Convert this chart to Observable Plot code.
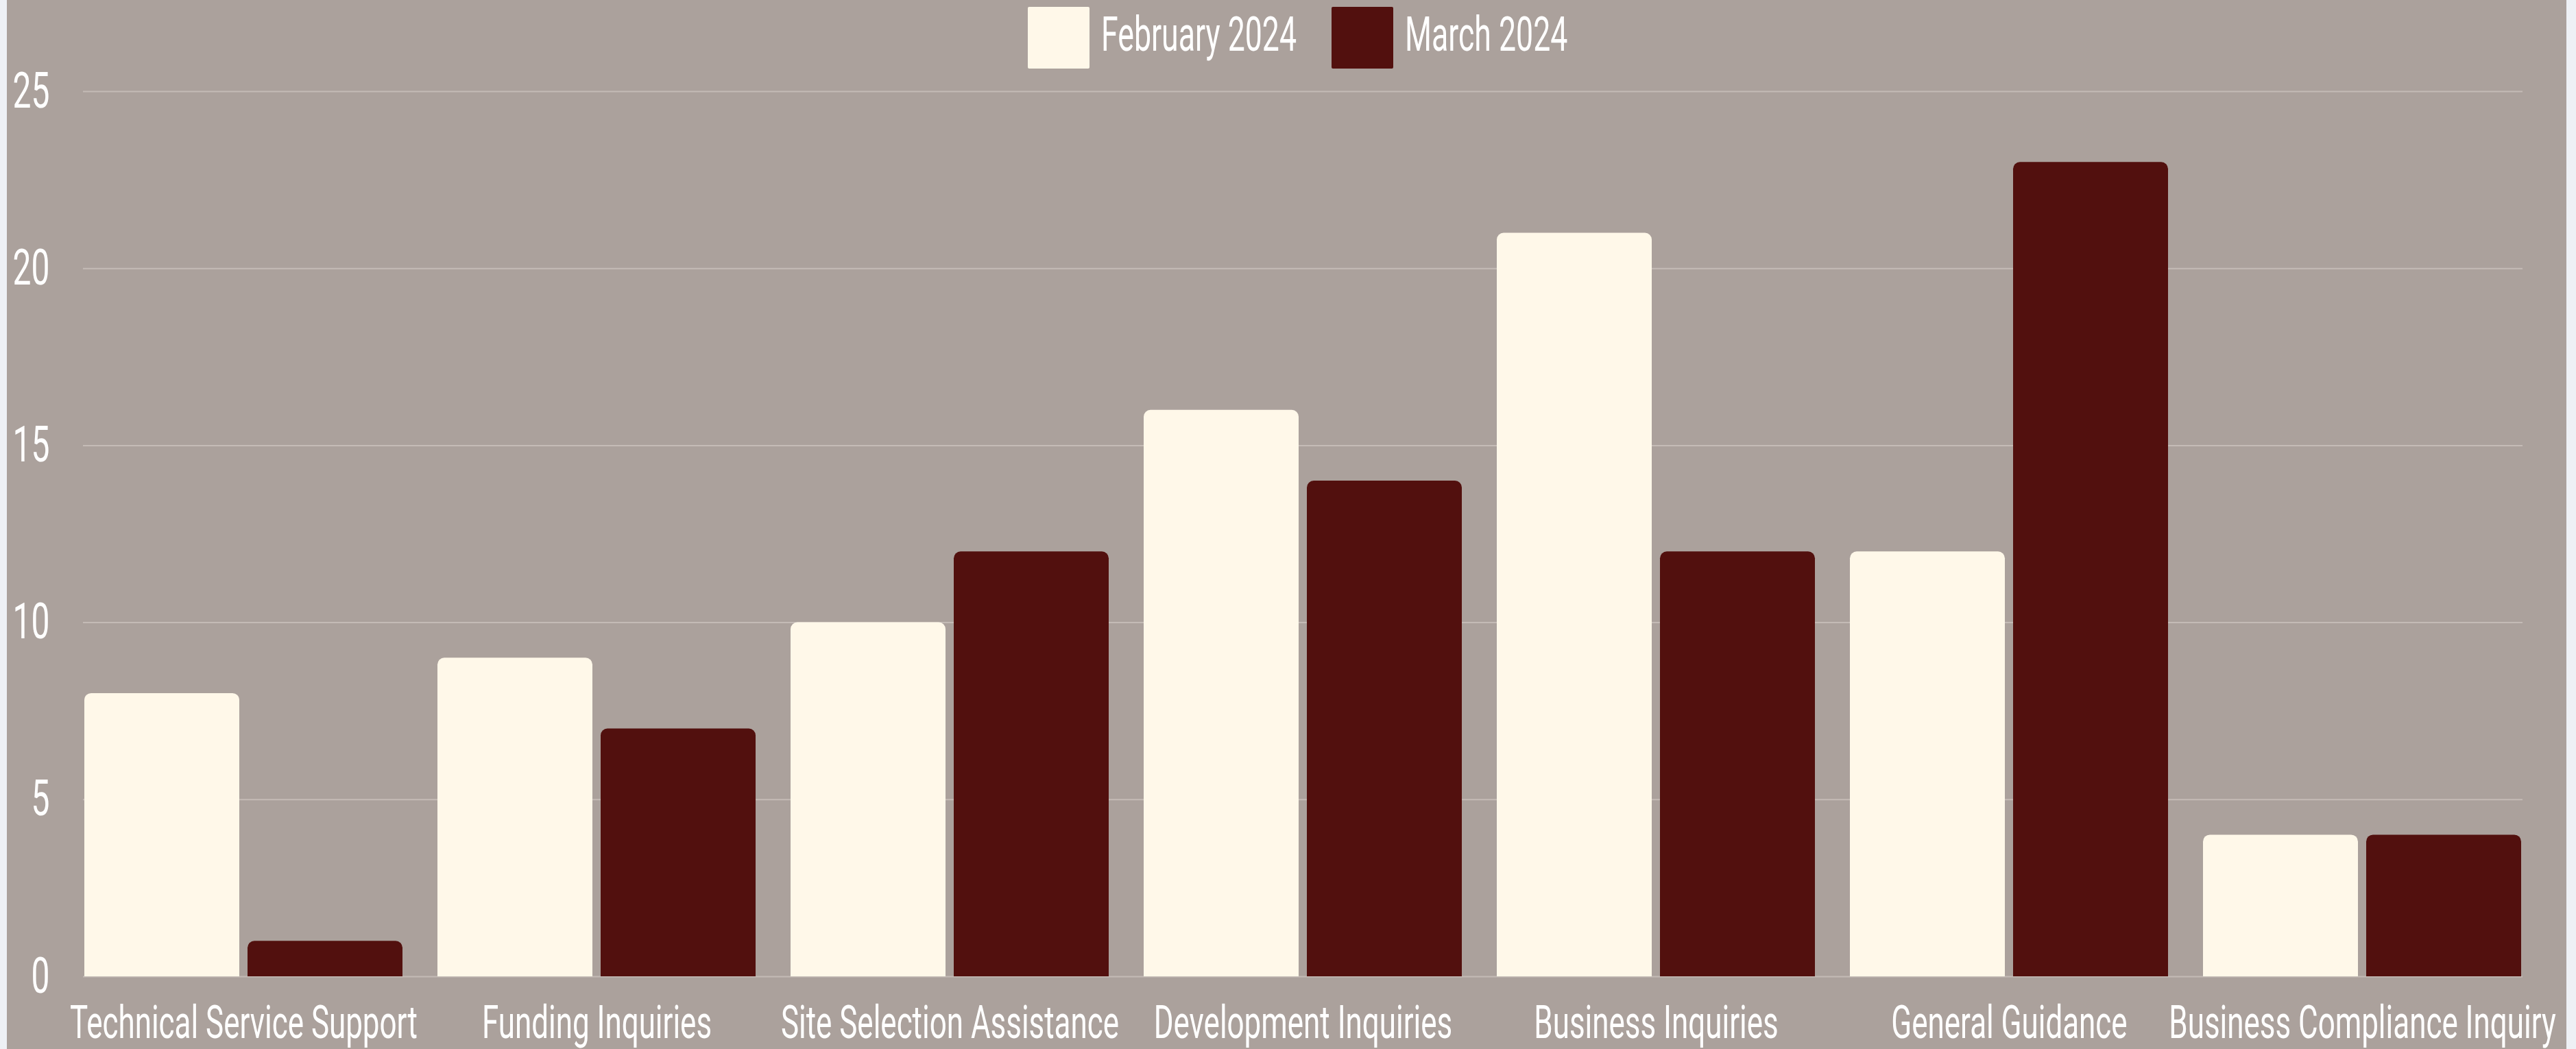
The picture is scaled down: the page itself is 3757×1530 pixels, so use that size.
<!DOCTYPE html>
<html>
<head>
<meta charset="utf-8">
<script src="https://cdn.jsdelivr.net/npm/d3@7"></script>
<script src="https://cdn.jsdelivr.net/npm/@observablehq/plot@0.6"></script>
<style>
  html, body { margin: 0; padding: 0; background: #eef0f5; }
  #panel { position: absolute; left: 10px; top: 0; width: 3733px; height: 1530px; background: #aba19c; overflow: hidden; font-family: Roboto, sans-serif; }
  #legend { position: absolute; top: 10px; left: 1489px; height: 90px; display: flex; align-items: center; color: #fff; font-size: 70px; white-space: nowrap; z-index: 2; }
  .sw { width: 90px; height: 90px; border-radius: 2px; flex: none; }
  .lab { display: inline-block; overflow: visible; }
  .lab span { display: inline-block; transform-origin: 0 50%; }
  #chart { position: absolute; left: 0; top: 0; }
</style>
</head>
<body>
<div id="panel">
  <div id="legend"></div>
  <div id="chart"></div>
</div>
<script>
const categories = [
  "Technical Service Support",
  "Funding Inquiries",
  "Site Selection Assistance",
  "Development Inquiries",
  "Business Inquiries",
  "General Guidance",
  "Business Compliance Inquiry"
];
const february = [8, 9, 10, 16, 21, 12, 4];
const march = [1, 7, 12, 14, 12, 23, 4];
const seriesNames = ["February 2024", "March 2024"];
const seriesColors = ["#fff8e9", "#52100e"];
const yTicks = [0, 5, 10, 15, 20, 25];

const rows = categories.flatMap((c, i) => [
  {category: c, series: seriesNames[0], value: february[i]},
  {category: c, series: seriesNames[1], value: march[i]}
]);

const chart = Plot.plot({
  width: 3733,
  height: 1530,
  marginTop: 133,
  marginBottom: 106,
  marginLeft: 111,
  marginRight: 64,
  style: {background: "transparent", color: "#fff", fontFamily: "Roboto, sans-serif", overflow: "visible"},
  x: {domain: categories, paddingInner: 0.1, paddingOuter: 0, label: null},
  y: {domain: [0, 25], label: null},
  color: {domain: seriesNames, range: seriesColors},
  marks: [
    Plot.gridY(yTicks, {stroke: "#c4bbb6", strokeOpacity: 1, strokeWidth: 2}),
    Plot.barY(rows.filter(d => d.series === seriesNames[0]), {x: "category", y: "value", fill: "series", insetRight: 238, ry1: 10}),
    Plot.barY(rows.filter(d => d.series === seriesNames[1]), {x: "category", y: "value", fill: "series", insetLeft: 238, ry1: 10}),
    Plot.axisX({tickSize: 0, tickPadding: 43, fontSize: 66, fill: "#fff", label: null}),
    Plot.axisY(yTicks, {tickSize: 0, tickPadding: 49, fontSize: 72, fill: "#fff", label: null, tickFormat: d => String(d)})
  ]
});
document.getElementById("chart").appendChild(chart);

// condense text horizontally (narrow display face)
const xTexts = chart.querySelectorAll('g[aria-label="x-axis tick label"] text');
const yTexts = chart.querySelectorAll('g[aria-label="y-axis tick label"] text');
let s = 0.6;
if (xTexts.length) {
  const w = xTexts[0].getBBox().width;
  if (w > 0) s = 507 / w;
}
function condense(t) {
  const xa = t.getAttribute("x");
  let pre = "";
  if (xa && !isNaN(+xa) && +xa !== 0) { pre = `translate(${+xa},0) `; t.removeAttribute("x"); }
  const tr = t.getAttribute("transform") || "";
  t.setAttribute("transform", `${tr} ${pre}scale(${s},1)`.trim());
}
xTexts.forEach(condense);
yTexts.forEach(condense);

// legend
const legend = document.getElementById("legend");
let ls = null;
seriesNames.forEach((name, i) => {
  const sw = document.createElement("div");
  sw.className = "sw";
  sw.style.background = seriesColors[i];
  sw.style.marginRight = "17px";
  legend.appendChild(sw);
  const lab = document.createElement("div");
  lab.className = "lab";
  const sp = document.createElement("span");
  sp.textContent = name;
  lab.appendChild(sp);
  legend.appendChild(lab);
  const nat = sp.getBoundingClientRect().width;
  if (ls === null) ls = nat > 0 ? 285 / nat : s;
  sp.style.transform = `scaleX(${ls})`;
  lab.style.width = (nat * ls) + "px";
  lab.style.marginTop = "-10px";
  if (i === 0) lab.style.marginRight = "51px";
});
</script>
</body>
</html>
